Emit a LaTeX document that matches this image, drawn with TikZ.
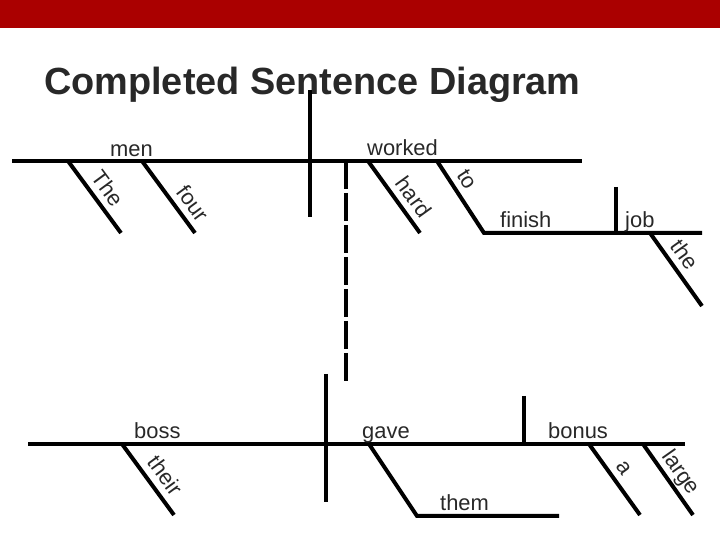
\documentclass[tikz,border=0pt]{standalone}
\usepackage{fontspec}
\setmainfont{Liberation Sans}
\usepackage{tikz}
\pgfdeclarelayer{background}
\pgfsetlayers{background,main}
\definecolor{barred}{RGB}{170,0,0}
\definecolor{ink}{RGB}{40,40,40}
\tikzset{
  diag/.style={line width=4bp,black},
  word/.style={font=\fontsize{22}{22}\selectfont,text=ink,inner sep=0pt,anchor=base west},
  tag/.style={font=\fontsize{22}{22}\selectfont,text=ink,inner sep=0pt,text depth=0pt,sloped,above=6.5bp}
}
\newcommand{\Word}[3]% pos, name, text
{\node[word] (#2) at (#1) {#3};}
\newcommand{\Slant}[5]% from, to, name, text, pos
{\coordinate (#3-a) at (#1);
  \coordinate (#3-b) at (#2);
  \draw[diag] (#3-a) -- node[tag,pos=#5] (#3) {#4} (#3-b);
}

\begin{document}
\begin{tikzpicture}[x=1bp,y=1bp]
        \useasboundingbox (0,0) rectangle (720,540);
        \begin{pgfonlayer}{background}
          \fill[barred] (0,512) rectangle (720,540);
        \end{pgfonlayer}
        \node[anchor=base west,inner sep=0pt,text=ink,font=\fontsize{38}{38}\selectfont\bfseries] (title) at (44,445) {Completed Sentence Diagram};
        % upper clause
        \coordinate (upL) at (12,379);
        \coordinate (upR) at (582,379);
        \coordinate (divT) at (310,450);
        \coordinate (divB) at (310,323);
        \draw[diag] (upL) -- (upR);
        \draw[diag] (divT) -- (divB);
        \Word{110,383}{men}{men}
        \Word{367,384}{worked}{worked}
        \Slant{68,379}{121,307}{The}{The}{0.51}
        \Slant{142,379}{195,307}{four}{four}{0.72}
        \Slant{368,379}{420,307}{hard}{hard}{0.63}
        \coordinate (to-a) at (437,379);
        \coordinate (to-b) at (484,307);
        \coordinate (infR) at (702,307);
        \draw[diag] (to-a) -- node[tag,pos=0.37] (to) {to} (to-b) -- (infR);
        \Word{500,312}{finish}{finish}
        \coordinate (objT) at (616,353);
        \coordinate (objB) at (616,307);
        \draw[diag] (objT) -- (objB);
        \Word{625,312}{job}{job}
        \Slant{650,307}{702,234}{the}{the}{0.42}
        % link down to the second clause
        \coordinate (dashT) at (346,379);
        \coordinate (dashB) at (346,155);
        \draw[diag,dash pattern=on 28bp off 4bp] (dashT) -- (dashB);
        % lower clause
        \coordinate (loL) at (28,96);
        \coordinate (loR) at (685,96);
        \coordinate (div2T) at (326,166);
        \coordinate (div2B) at (326,38);
        \draw[diag] (loL) -- (loR);
        \draw[diag] (div2T) -- (div2B);
        \Word{134,101}{boss}{boss}
        \Word{362,101}{gave}{gave}
        \Slant{122,96}{174,25}{their}{their}{0.58}
        \coordinate (io-a) at (369,96);
        \coordinate (io-b) at (417,24);
        \coordinate (ioR) at (559,24);
        \draw[diag] (io-a) -- (io-b) -- (ioR);
        \Word{440,29}{them}{them}
        \coordinate (obj2T) at (524,144);
        \coordinate (obj2B) at (524,96);
        \draw[diag] (obj2T) -- (obj2B);
        \Word{548,101}{bonus}{bonus}
        \Slant{589,96}{640,25}{a}{a}{0.45}
        \Slant{643,96}{693,25}{large}{large}{0.52}
\end{tikzpicture}
\end{document}
